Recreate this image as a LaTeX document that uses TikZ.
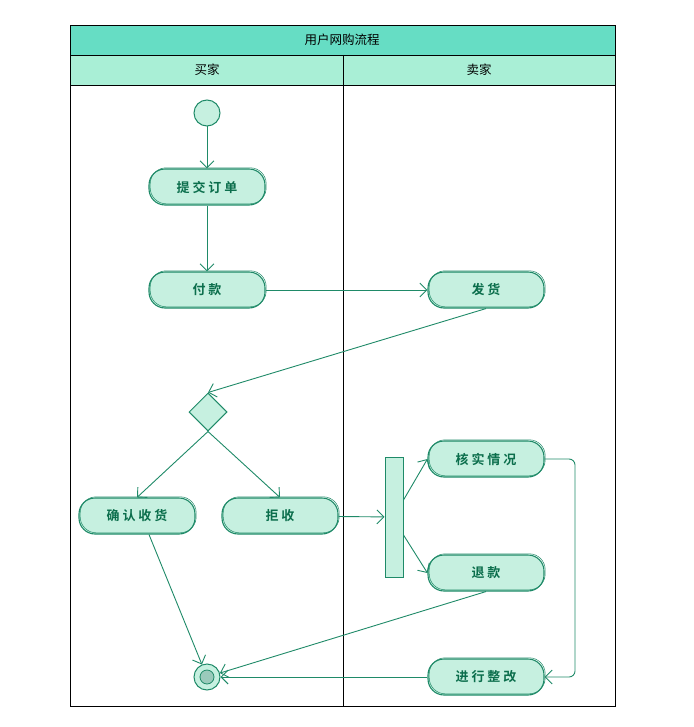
\documentclass[tikz,border=0pt]{standalone}
\usepackage{fontspec}
\setmainfont{Noto Sans CJK SC}
\newfontfamily\cjkb{Noto Sans CJK SC}[BoldFont={* Bold}]
\usetikzlibrary{arrows.meta,shapes.geometric}
\definecolor{lineG}{HTML}{1F8A68}
\definecolor{fillG}{HTML}{C6F0E0}
\definecolor{textG}{HTML}{0B6E4C}
\definecolor{titleG}{HTML}{66DDC4}
\definecolor{headG}{HTML}{A9EFD6}
\tikzset{
  act/.style={draw=lineG, fill=fillG, line width=1.1pt, rounded corners=16pt,
    minimum width=116pt, minimum height=36pt, inner sep=0pt,
    font=\cjkb\bfseries\fontsize{13}{13}\selectfont, text=textG,
    postaction={draw=lineG, line width=0.5pt, rounded corners=16pt,
      transform canvas={shift={(1.2pt,1.2pt)}}}},
  flow/.style={draw=lineG, line width=0.9pt, -{Straight Barb[length=7pt,width=14pt]}},
  lane/.style={draw=black, line width=0.8pt},
}
\begin{document}
\begin{tikzpicture}[x=1pt,y=-1pt]
\useasboundingbox (0,0) rectangle (693,727);
% swimlane frame
\fill[titleG] (70,25) rectangle (615,55);
\fill[headG] (70,55) rectangle (615,85);
\draw[lane] (70,25) rectangle (615,706);
\draw[lane] (70,55) -- (615,55);
\draw[lane] (70,85) -- (615,85);
\draw[lane] (343,55) -- (343,706);
\node (title) at (342,40) {\fontsize{12.5}{12.5}\selectfont 用户网购流程};
\node (buyer) at (207,70) {\fontsize{12.5}{12.5}\selectfont 买家};
\node (seller) at (479,70) {\fontsize{12.5}{12.5}\selectfont 卖家};
% nodes
\node[circle, draw=lineG, fill=fillG, line width=1pt, minimum size=26pt, inner sep=0pt] (start) at (207,113) {};
\node[act] (submit) at (207,187) {提 交 订 单};
\node[act] (pay) at (207,290) {付 款};
\node[act] (ship) at (486,290) {发 货};
\node[diamond, draw=lineG, fill=fillG, line width=1pt, minimum size=38pt, inner sep=0pt] (dec) at (208,412) {};
\node[act] (confirm) at (137,516) {确 认 收 货};
\node[act] (reject) at (280,516) {拒 收};
\node[draw=lineG, fill=fillG, line width=1pt, minimum width=18pt, minimum height=120pt, inner sep=0pt] (fork) at (394,517) {};
\node[act] (check) at (486,459) {核 实 情 况};
\node[act] (refund) at (486,573) {退 款};
\node[act] (fix) at (486,677) {进 行 整 改};
\node[circle, draw=lineG, fill=fillG, line width=1pt, minimum size=26pt, inner sep=0pt] (end) at (207,677) {};
\node[circle, draw=lineG, fill=lineG!45, line width=0.8pt, minimum size=14pt, inner sep=0pt] (endin) at (207,677) {};
% connectors
\draw[flow] (start) -- (submit);
\draw[flow] (submit) -- (pay);
\draw[flow] (pay) -- (ship);
\draw[flow] (ship.south) -- (dec.north);
\draw[flow] (dec.south) -- (confirm.north);
\draw[flow] (dec.south) -- (reject.north);
\draw[flow] (reject) -- (fork);
\draw[flow] ([yshift=17pt]fork.east) -- (check.west);
\draw[flow] ([yshift=-18pt]fork.east) -- (refund.west);
\draw[flow, rounded corners=6pt] (check.east) -- (575,459) -- (575,677) -- (fix.east);
\draw[flow] (refund.south) -- (end);
\draw[flow] ([xshift=12pt]confirm.south) -- (end);
\draw[flow] (fix) -- (end);
\end{tikzpicture}
\end{document}
